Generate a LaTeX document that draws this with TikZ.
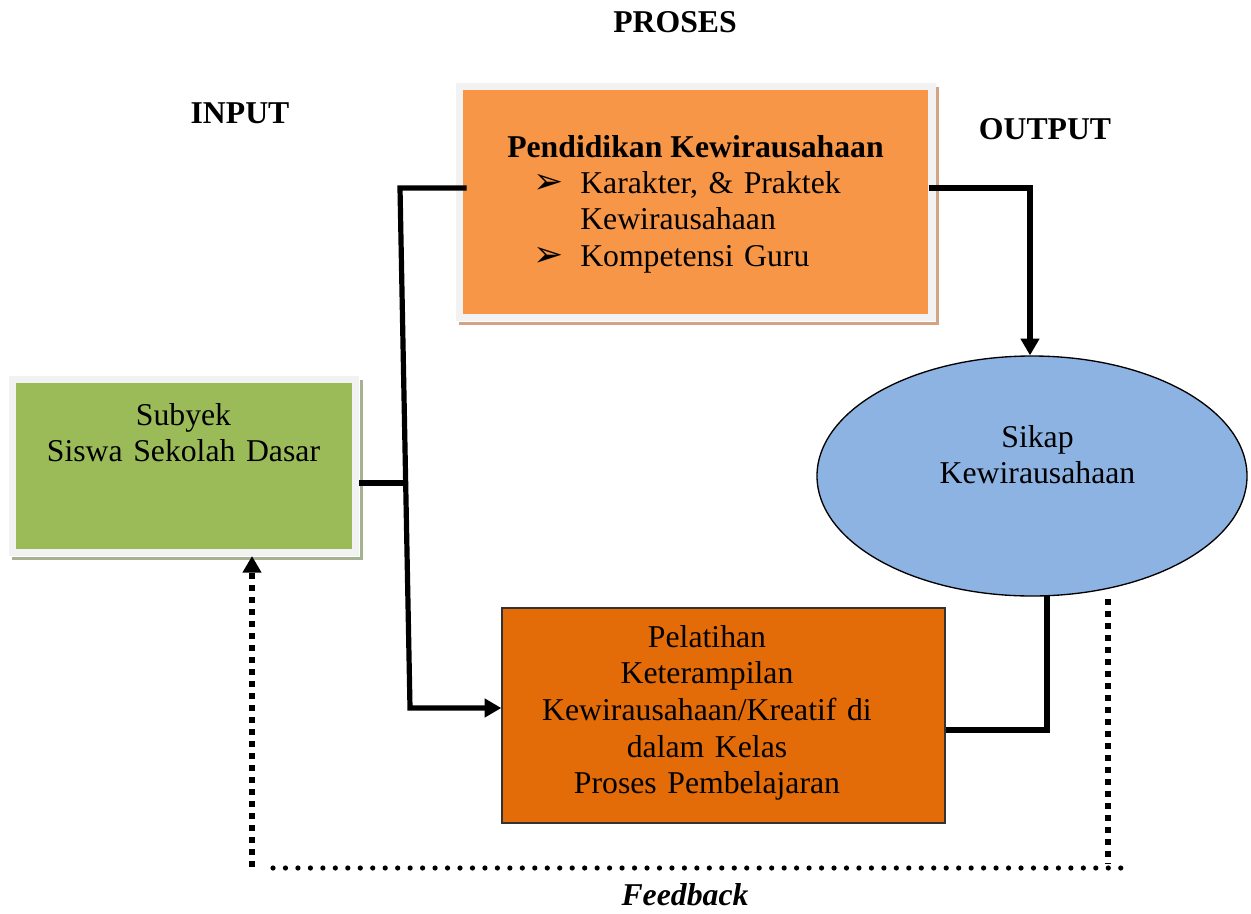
\documentclass[tikz,border=0pt]{standalone}
\usepackage{fontspec}
\setmainfont{Liberation Serif}
\newfontfamily\symfont{DejaVu Sans}
\usetikzlibrary{arrows.meta,shapes.geometric,shadows,calc}

\definecolor{procorange}{HTML}{F79646}
\definecolor{trainorange}{HTML}{E36C09}
\definecolor{inputgreen}{HTML}{9BBB59}
\definecolor{outputblue}{HTML}{8DB3E2}
\definecolor{framegray}{HTML}{F2F2F2}
\definecolor{tanshadow}{HTML}{D3A483}
\definecolor{greenshadow}{HTML}{A5B290}

\newcommand{\arrowbullet}{\makebox[35.25pt][l]{\symfont\bfseries\fontsize{27pt}{27.5pt}\selectfont ➢}}

\begin{document}
\begin{tikzpicture}[x=0.75pt,y=-0.75pt,
  txt/.style={font=\fontsize{23.8pt}{27.5pt}\selectfont, inner sep=0pt},
  heading/.style={txt, font=\fontsize{23.8pt}{27.5pt}\selectfont\bfseries, anchor=base},
  framedbox/.style={rectangle, inner sep=0pt, fill=#1, draw=framegray, line width=5.6pt},
  tanframe/.style={general shadow={draw=tanshadow, fill=tanshadow, line width=5.6pt,
      shadow xshift=2.4pt, shadow yshift=-3pt},
    preaction={draw=white, line width=7pt}},
  greenframe/.style={general shadow={draw=greenshadow, fill=greenshadow, line width=5.6pt,
      shadow xshift=2.4pt, shadow yshift=-3pt},
    preaction={draw=white, line width=7pt}},
  flow/.style={line width=3.9pt, line join=miter},
  tip/.style={-{Triangle[width=13.5pt,length=12.5pt]}},
  sqdots/.style={line width=4.5pt, line cap=butt, dash pattern=on 4.5pt off 4.5pt},
  rounddots/.style={line width=3.9pt, line cap=round, dash pattern=on 0pt off 9.35pt},
]
\useasboundingbox (0,0) rectangle (1251,913);

% headings
\node[heading] (proses) at (675,33) {PROSES};
\node[heading] (input) at (240,123) {INPUT};
\node[heading] (output) at (1045,140) {OUTPUT};

% process box: entrepreneurship education
\node[framedbox=procorange, tanframe, minimum width=354.4pt, minimum height=173.6pt]
  (edu) at (695.5,202) {};
\node[heading] (edutitle) at (695.5,157) {Pendidikan Kewirausahaan};
\node[txt, anchor=base west, text width=300pt, align=left] (edulist) at (533,193)
  {\arrowbullet Karakter, \& Praktek\\
   \hspace*{35.25pt}Kewirausahaan\\
   \arrowbullet Kompetensi Guru};

% input box
\node[framedbox=inputgreen, greenframe, minimum width=257.6pt, minimum height=129.4pt]
  (subj) at (184,466) {};
\node[txt, anchor=base, text width=250pt, align=center] (subjtext) at (183.5,425)
  {Subyek\\Siswa Sekolah Dasar};

% output ellipse
\node[ellipse, draw=black, line width=1pt, fill=outputblue, inner sep=0pt,
  minimum width=322.5pt, minimum height=180pt] (sikap) at (1032,476) {};
\node[txt, anchor=base, text width=200pt, align=center] (sikaptext) at (1037.5,447)
  {Sikap\\Kewirausahaan};

% training box
\node[rectangle, draw=black!80, line width=1pt, fill=trainorange, inner sep=0pt,
  minimum width=332.25pt, minimum height=161.25pt] (train) at (723.5,715.5) {};
\node[txt, anchor=base, text width=300pt, align=center] (traintext) at (707,647)
  {Pelatihan\\Keterampilan\\Kewirausahaan/Kreatif di\\dalam Kelas\\Proses Pembelajaran};

% feedback label
\node[txt, anchor=base, font=\fontsize{23.8pt}{27.5pt}\selectfont\bfseries\itshape]
  (fb) at (685,905) {Feedback};

% junction points
\coordinate (jt) at (400,188);
\coordinate (jm) at (404,483);
\coordinate (jb) at (410,708);
\coordinate (tr) at (1030,188);
\coordinate (br) at (1047,730);
\coordinate (fr) at (1108,868);
\coordinate (fl) at (252,868);

% connectors
\draw[flow] (subj.east |- jm) -- (jm);
\draw[flow, tip] ($(edu.west |- jt)+(11,0)$) -- (jt) -- (jb) -- (train.west |- jb);
\draw[flow, tip] ($(edu.east |- tr)+(-7,0)$) -- (tr) -- (tr |- sikap.north);
\draw[flow] ($(br |- sikap.south)+(0,-2)$) -- (br) -- (train.east |- br);

% feedback loop
\draw[sqdots] ($(fr |- sikap.south)+(0,2)$) -- ($(fr)+(0,-4)$);
\draw[rounddots] ($(fl)+(21,0)$) -- ($(fr)+(13,0)$);
\draw[sqdots, tip] ($(fl)+(0,-1)$) -- (fl |- subj.south);
\end{tikzpicture}
\end{document}
